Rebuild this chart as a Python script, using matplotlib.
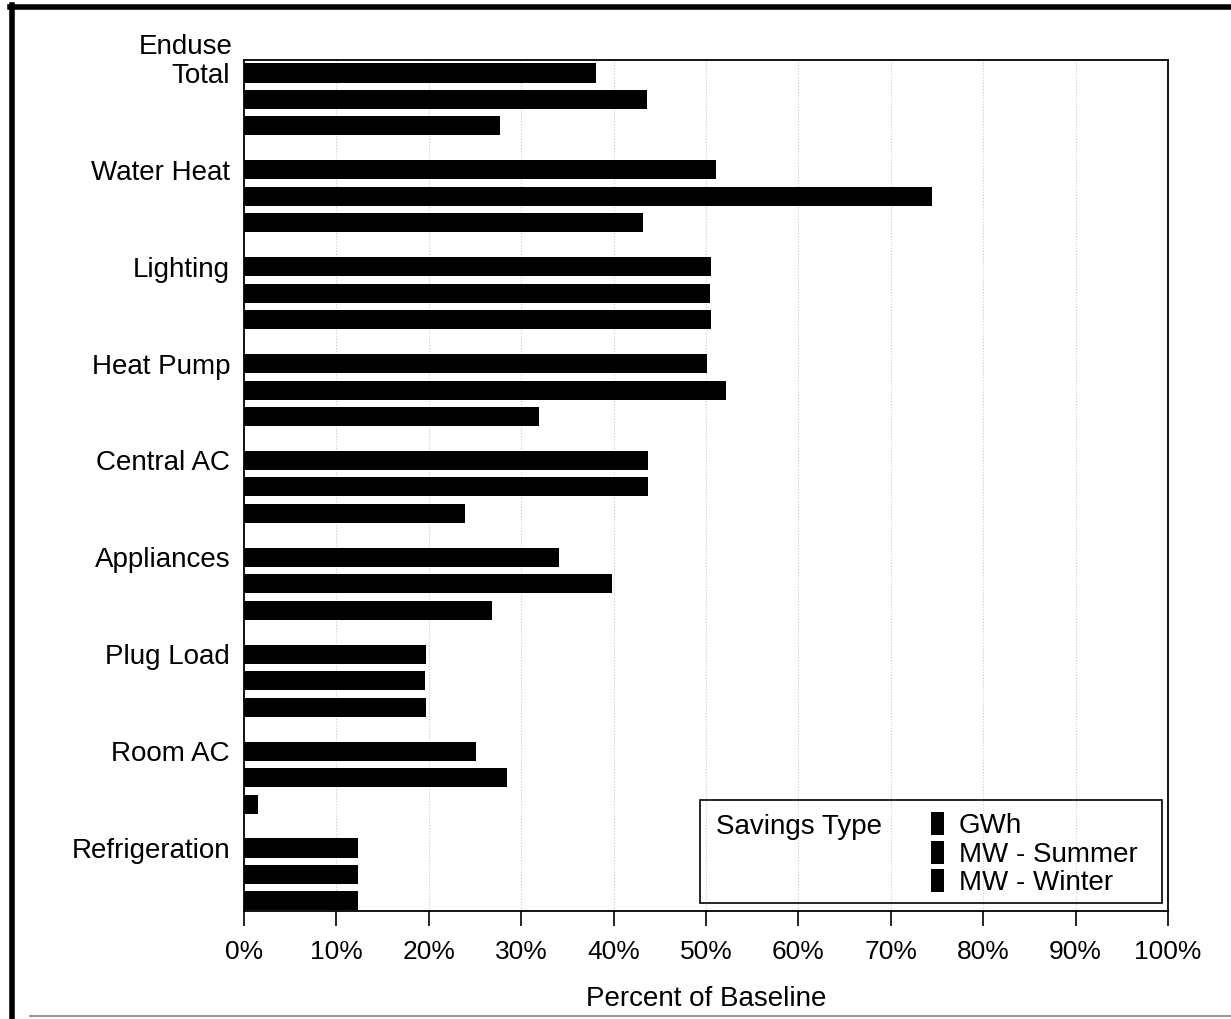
import numpy as np
import matplotlib.pyplot as plt
from matplotlib.lines import Line2D
from matplotlib.patches import Rectangle

plt.rcParams['font.family'] = ['Liberation Sans', 'DejaVu Sans']

enduses = ['Total', 'Water Heat', 'Lighting', 'Heat Pump', 'Central AC',
           'Appliances', 'Plug Load', 'Room AC', 'Refrigeration']
series = ['GWh', 'MW - Summer', 'MW - Winter']
gwh = [38.1, 51.1, 50.5, 50.1, 43.7, 34.1, 19.7, 25.1, 12.3]
mw_summer = [43.6, 74.5, 50.4, 52.2, 43.7, 39.8, 19.6, 28.5, 12.3]
mw_winter = [27.7, 43.2, 50.5, 31.9, 23.9, 26.8, 19.7, 1.5, 12.3]

group_step = 3.66
bar_h = 0.72

fig = plt.figure(figsize=(12.31, 10.19), dpi=100)
ax = fig.add_axes([0.1982, 0.106, 0.7506, 0.8351])

base = np.arange(len(enduses)) * group_step
handles = []
for j, vals in enumerate([gwh, mw_summer, mw_winter]):
    b = ax.barh(base + j, vals, height=bar_h, color='black', zorder=3)
    handles.append(b)

ax.set_xlim(0, 100)
ax.set_ylim(base[-1] + 2 + 0.38, -0.49)
ax.set_yticks(base)
ax.set_yticklabels(enduses, fontsize=20)
ax.tick_params(axis='y', length=0, pad=10)
ax.set_xticks(np.arange(0, 101, 10))
ax.set_xticklabels([f'{v}%' for v in range(0, 101, 10)], fontsize=19)
ax.tick_params(axis='x', direction='out', length=11, width=1.2, pad=10)
ax.xaxis.grid(True, linestyle=':', color='#c8c8c8', linewidth=0.8, zorder=0)
for s in ax.spines.values():
    s.set_linewidth(1.3)
ax.set_xlabel('Percent of Baseline', fontsize=20, labelpad=16)

# column header above the first category
ax.text(-0.012, -1.0, 'Enduse', transform=ax.get_yaxis_transform(),
        ha='right', va='center', fontsize=20, clip_on=False)

# legend box with the title on the left
fig.add_artist(Rectangle((700 / 1231, 1 - 903 / 1019), 462 / 1231, 103 / 1019,
                         transform=fig.transFigure, fill=False,
                         edgecolor='black', linewidth=1.2, zorder=5))
fig.text(716 / 1231, 1 - 827 / 1019, 'Savings Type', fontsize=20,
         ha='left', va='center')
ax.legend(handles, series, loc='upper left', frameon=False, fontsize=20,
          bbox_to_anchor=(931 / 1231, 1 - 812 / 1019),
          bbox_transform=fig.transFigure, handlelength=0.45,
          handleheight=0.9, handletextpad=0.55, labelspacing=0.05,
          borderpad=0, borderaxespad=0)

# page frame
fig.add_artist(Line2D([12 / 1231, 12 / 1231], [0, 1 - 5 / 1019],
                      transform=fig.transFigure, color='black', linewidth=4))
fig.add_artist(Line2D([10 / 1231, 1], [1 - 7 / 1019, 1 - 7 / 1019],
                      transform=fig.transFigure, color='black', linewidth=4))
fig.add_artist(Line2D([30 / 1231, 1], [1 - 1016 / 1019, 1 - 1016 / 1019],
                      transform=fig.transFigure, color='#999999', linewidth=1.5))

fig.savefig('out.png', dpi=100)
